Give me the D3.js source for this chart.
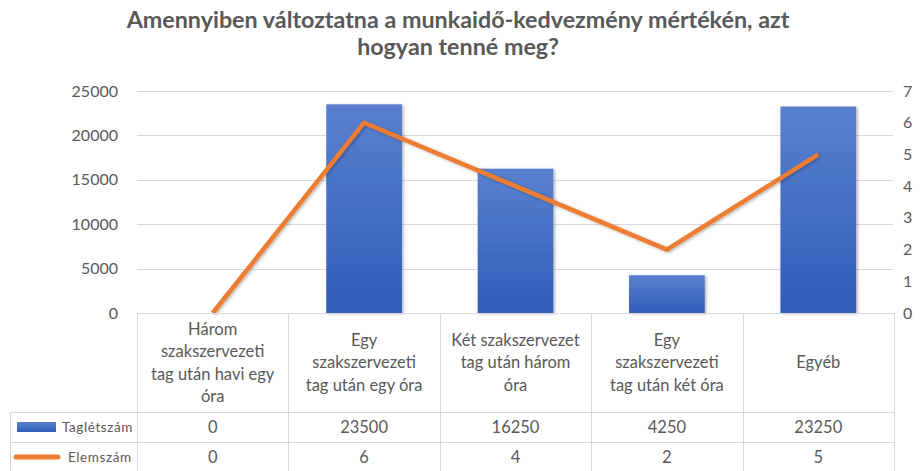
<!DOCTYPE html>
<html>
<head>
<meta charset="utf-8">
<script src="https://cdn.jsdelivr.net/npm/d3@7"></script>
<style>
  body { margin: 0; background: #fff; }
  text { font-family: Lato, "Open Sans", sans-serif; fill: #595959; }
</style>
</head>
<body>
<div id="chart"></div>
<script>
let dim = { 'width': 924, 'height': 471 };

// data
let categories = [
    ["Három", "szakszervezeti", "tag után havi egy", "óra"],
    ["Egy", "szakszervezeti", "tag után egy óra"],
    ["Két szakszervezet", "tag után három", "óra"],
    ["Egy", "szakszervezeti", "tag után két óra"],
    ["Egyéb"]
];
let tagletszam = [0, 23500, 16250, 4250, 23250];
let elemszam = [0, 6, 4, 2, 5];
let leftTicks = [0, 5000, 10000, 15000, 20000, 25000];
let rightTicks = [0, 1, 2, 3, 4, 5, 6, 7];
let seriesNames = ["Taglétszám", "Elemszám"];
let titleLines = ["Amennyiben változtatna a munkaidő-kedvezmény mértékén, azt", "hogyan tenné meg?"];

let plot = { left: 137, right: 894, top: 91, bottom: 313 };
let rowY = [313, 412, 442, 472];

let svg = d3.select('#chart').append('svg')
    .attr('width', dim.width)
    .attr('height', dim.height);

let defs = svg.append('defs');
let grad = defs.append('linearGradient')
    .attr('id', 'barGrad')
    .attr('x1', 0).attr('y1', 0).attr('x2', 0).attr('y2', 1);
grad.append('stop').attr('offset', '0%').attr('stop-color', '#5a80cf');
grad.append('stop').attr('offset', '100%').attr('stop-color', '#2f5db9');

let shadow = defs.append('filter').attr('id', 'shadow')
    .attr('x', '-10%').attr('y', '-10%').attr('width', '130%').attr('height', '130%');
shadow.append('feDropShadow')
    .attr('dx', 1.5).attr('dy', 1).attr('stdDeviation', 1.5)
    .attr('flood-color', '#000').attr('flood-opacity', 0.3);

let scaleX = d3.scaleBand()
    .domain(d3.range(categories.length))
    .range([plot.left, plot.right]);

let scaleY = d3.scaleLinear()
    .domain([0, 25000])
    .range([plot.bottom, plot.top]);

let scaleY2 = d3.scaleLinear()
    .domain([0, 7])
    .range([plot.bottom, plot.top]);

// title
svg.append('g').selectAll('text')
    .data(titleLines)
    .join('text')
    .attr('x', 458)
    .attr('y', (d, i) => 28 + i * 27)
    .attr('text-anchor', 'middle')
    .attr('font-size', 23.3)
    .attr('font-weight', 'bold')
    .text(d => d);

// gridlines
svg.append('g').selectAll('line')
    .data(leftTicks.filter(d => d > 0))
    .join('line')
    .attr('x1', plot.left).attr('x2', plot.right - 1)
    .attr('y1', d => Math.round(scaleY(d)) + 0.5)
    .attr('y2', d => Math.round(scaleY(d)) + 0.5)
    .attr('stroke', '#d9d9d9');

// axes
let axisLeft = svg.append('g')
    .attr('transform', 'translate(' + (plot.left - 1) + ',0)')
    .call(d3.axisLeft(scaleY).tickValues(leftTicks).tickFormat(d3.format('d')).tickSize(0).tickPadding(18));
axisLeft.select('.domain').remove();
axisLeft.selectAll('text').attr('font-size', 16).attr('fill', '#595959').attr('font-family', null);

let axisRight = svg.append('g')
    .attr('transform', 'translate(' + (plot.right) + ',0)')
    .call(d3.axisRight(scaleY2).tickValues(rightTicks).tickFormat(d3.format('d')).tickSize(0).tickPadding(9));
axisRight.select('.domain').remove();
axisRight.selectAll('text').attr('font-size', 16).attr('fill', '#595959').attr('font-family', null);

// bars
svg.append('g').selectAll('rect')
    .data(tagletszam)
    .join('rect')
    .attr('x', (d, i) => scaleX(i) + scaleX.bandwidth() / 4)
    .attr('y', d => scaleY(d))
    .attr('width', scaleX.bandwidth() / 2)
    .attr('height', d => scaleY(0) - scaleY(d))
    .attr('fill', 'url(#barGrad)')
    .attr('filter', 'url(#shadow)');

// line
let line = d3.line()
    .x((d, i) => scaleX(i) + scaleX.bandwidth() / 2)
    .y(d => scaleY2(d));

svg.append('path')
    .datum(elemszam)
    .attr('d', line)
    .attr('fill', 'none')
    .attr('stroke', '#ed7d31')
    .attr('stroke-width', 4.5)
    .attr('stroke-linejoin', 'round')
    .attr('filter', 'url(#shadow)');

// data table
let table = svg.append('g');
let gridColor = '#d9d9d9';

table.append('line')
    .attr('x1', plot.left).attr('x2', plot.right)
    .attr('y1', rowY[0] + 0.5).attr('y2', rowY[0] + 0.5)
    .attr('stroke', gridColor);

[rowY[1], rowY[2]].forEach(y => {
    table.append('line')
        .attr('x1', 10).attr('x2', plot.right)
        .attr('y1', y + 0.5).attr('y2', y + 0.5)
        .attr('stroke', gridColor);
});

let colEdges = d3.range(categories.length + 1).map(i => i < categories.length ? scaleX(i) : plot.right);
table.selectAll('.vline')
    .data(colEdges)
    .join('line')
    .attr('class', 'vline')
    .attr('x1', d => Math.round(d) + 0.5).attr('x2', d => Math.round(d) + 0.5)
    .attr('y1', rowY[0]).attr('y2', rowY[3])
    .attr('stroke', gridColor);

table.append('line')
    .attr('x1', 10.5).attr('x2', 10.5)
    .attr('y1', rowY[1]).attr('y2', rowY[3])
    .attr('stroke', gridColor);

// category headers
let headerMid = (rowY[0] + rowY[1]) / 2;
let lineH = 22.5;
categories.forEach((lines, i) => {
    let cx = scaleX(i) + scaleX.bandwidth() / 2;
    table.selectAll('.cat' + i)
        .data(lines)
        .join('text')
        .attr('x', cx)
        .attr('y', (d, j) => headerMid + (j - (lines.length - 1) / 2) * lineH)
        .attr('dy', '0.35em')
        .attr('text-anchor', 'middle')
        .attr('font-size', 16.5)
        .text(d => d);
});

// value rows
[tagletszam, elemszam].forEach((vals, r) => {
    let cy = (rowY[r + 1] + rowY[r + 2]) / 2;
    table.selectAll('.val' + r)
        .data(vals)
        .join('text')
        .attr('x', (d, i) => scaleX(i) + scaleX.bandwidth() / 2)
        .attr('y', cy)
        .attr('dy', '0.35em')
        .attr('text-anchor', 'middle')
        .attr('font-size', 16.5)
        .text(d => d);
});

// legend keys
let key1y = (rowY[1] + rowY[2]) / 2;
let key2y = (rowY[2] + rowY[3]) / 2;
table.append('rect')
    .attr('x', 17).attr('y', key1y - 5)
    .attr('width', 39).attr('height', 10)
    .attr('fill', 'url(#barGrad)');
table.append('line')
    .attr('x1', 16).attr('x2', 58)
    .attr('y1', key2y).attr('y2', key2y)
    .attr('stroke', '#ed7d31').attr('stroke-width', 5)
    .attr('stroke-linecap', 'round');
table.append('text')
    .attr('x', 62).attr('y', key1y).attr('dy', '0.35em')
    .attr('font-size', 13.5)
    .attr('letter-spacing', 0.6)
    .text(seriesNames[0]);
table.append('text')
    .attr('x', 68).attr('y', key2y).attr('dy', '0.35em')
    .attr('font-size', 13.5)
    .attr('letter-spacing', 0.6)
    .text(seriesNames[1]);
</script>
</body>
</html>
